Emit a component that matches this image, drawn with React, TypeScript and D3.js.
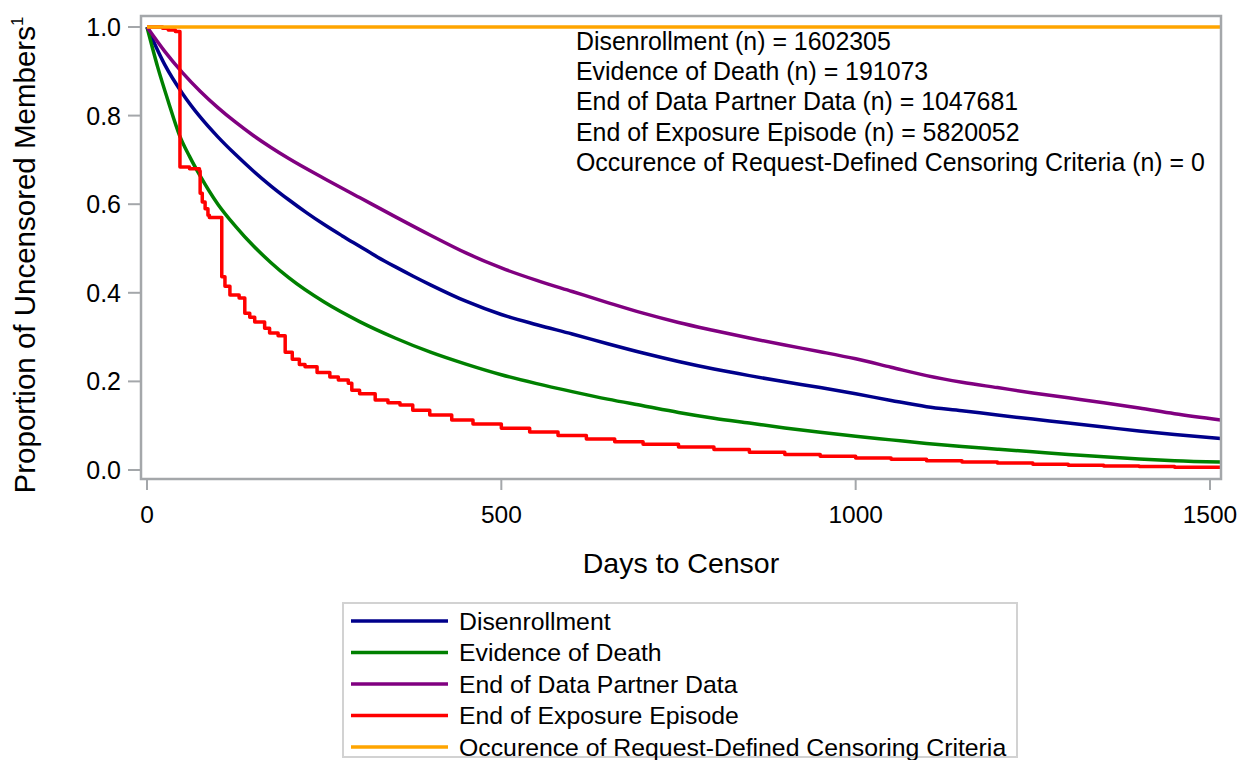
import React from 'react';
import * as d3 from 'd3';

// ---------- data ----------
const xTicks = [0, 500, 1000, 1500];
const yTicks = [0, 0.2, 0.4, 0.6, 0.8, 1.0];

const seriesNames = [
  'Disenrollment',
  'Evidence of Death',
  'End of Data Partner Data',
  'End of Exposure Episode',
  'Occurence of Request-Defined Censoring Criteria',
];
const seriesCounts = [1602305, 191073, 1047681, 5820052, 0];
const seriesColors = ['#00008B', '#008000', '#800080', '#FF0000', '#FFA500'];

const disenrollDays = [0, 25, 50, 75, 100, 125, 150, 175, 200, 225, 250, 275, 300, 325, 350, 375, 400, 450, 500, 550, 600, 650, 700, 750, 800, 850, 900, 950, 1000, 1050, 1100, 1150, 1200, 1250, 1300, 1350, 1400, 1450, 1515];
const disenrollVals = [1.0, 0.915, 0.85, 0.797, 0.752, 0.712, 0.675, 0.641, 0.61, 0.581, 0.554, 0.529, 0.505, 0.481, 0.459, 0.438, 0.418, 0.381, 0.351, 0.328, 0.307, 0.285, 0.264, 0.245, 0.228, 0.213, 0.199, 0.186, 0.172, 0.157, 0.143, 0.134, 0.124, 0.115, 0.106, 0.097, 0.088, 0.08, 0.071];

const deathDays = [0, 15, 30, 46, 60, 75, 100, 125, 150, 175, 200, 250, 300, 350, 400, 450, 500, 550, 600, 650, 700, 750, 800, 850, 900, 950, 1000, 1050, 1100, 1150, 1200, 1250, 1300, 1350, 1400, 1450, 1515];
const deathVals = [1.0, 0.91, 0.832, 0.755, 0.708, 0.664, 0.6, 0.55, 0.506, 0.468, 0.434, 0.379, 0.335, 0.298, 0.266, 0.239, 0.215, 0.195, 0.177, 0.16, 0.145, 0.13, 0.117, 0.106, 0.095, 0.085, 0.076, 0.068, 0.06, 0.053, 0.047, 0.041, 0.035, 0.03, 0.025, 0.021, 0.018];

const partnerDays = [0, 25, 50, 75, 100, 125, 150, 175, 200, 250, 300, 350, 400, 450, 500, 550, 600, 650, 700, 750, 800, 850, 900, 950, 1000, 1050, 1100, 1150, 1200, 1250, 1300, 1350, 1400, 1450, 1515];
const partnerVals = [1.0, 0.945, 0.897, 0.855, 0.818, 0.785, 0.755, 0.728, 0.703, 0.658, 0.615, 0.572, 0.53, 0.49, 0.456, 0.428, 0.403, 0.378, 0.354, 0.333, 0.315, 0.298, 0.282, 0.267, 0.251, 0.232, 0.213, 0.198, 0.186, 0.174, 0.163, 0.152, 0.14, 0.127, 0.113];

const exposureDays = [0, 22, 30, 40, 46.5, 60, 74, 75, 78, 82, 86, 88, 105.5, 110, 117, 130, 138, 145, 152, 166, 173, 185, 195, 205, 215, 223, 240, 258, 270, 284, 289, 300, 322, 340, 357, 375, 399, 430, 460, 500, 540, 580, 620, 660, 700, 750, 800, 850, 900, 950, 1000, 1050, 1100, 1150, 1200, 1250, 1300, 1350, 1400, 1450, 1515];
const exposureVals = [1.0, 0.997, 0.993, 0.99, 0.684, 0.68, 0.675, 0.625, 0.605, 0.59, 0.575, 0.57, 0.436, 0.415, 0.395, 0.388, 0.354, 0.345, 0.334, 0.32, 0.309, 0.303, 0.266, 0.25, 0.238, 0.233, 0.22, 0.21, 0.203, 0.196, 0.18, 0.172, 0.158, 0.152, 0.147, 0.135, 0.124, 0.113, 0.104, 0.094, 0.086, 0.078, 0.07, 0.064, 0.058, 0.052, 0.046, 0.04, 0.035, 0.031, 0.027, 0.024, 0.021, 0.018, 0.016, 0.013, 0.011, 0.009, 0.008, 0.006, 0.005];

const requestDays = [0, 1515];
const requestVals = [1.0, 1.0];

const seriesDays = [disenrollDays, deathDays, partnerDays, exposureDays, requestDays];
const seriesVals = [disenrollVals, deathVals, partnerVals, exposureVals, requestVals];
const seriesStep = [false, false, false, true, false];

// ---------- layout ----------
const W = 1243;
const H = 760;
const frame = { left: 141, right: 1221, top: 16, bottom: 479 };
const FONT = '"Liberation Sans", Arial, Helvetica, sans-serif';
const axisColor = '#a4a7aa';

export default function App() {
  const x = d3.scaleLinear().domain([0, 1500]).range([147, 1210]);
  const y = d3.scaleLinear().domain([0, 1]).range([470, 27]);

  const paths = seriesDays.map((days, i) => {
    const pts: [number, number][] = days.map((d, j) => [d, seriesVals[i][j]]);
    const gen = d3
      .line<[number, number]>()
      .x((p) => x(p[0]))
      .y((p) => y(p[1]))
      .curve(seriesStep[i] ? d3.curveStepAfter : d3.curveMonotoneX);
    return gen(pts) || '';
  });

  const legend = { left: 343, top: 603, width: 674, height: 154, rowStart: 621, rowGap: 31.5 };

  return (
    <svg
      width={W}
      height={H}
      style={{ position: 'absolute', left: 0, top: 0, background: '#fff' }}
      fontFamily={FONT}
    >
      <defs>
        <clipPath id="plotClip">
          <rect x={frame.left} y={frame.top} width={frame.right - frame.left} height={frame.bottom - frame.top} />
        </clipPath>
      </defs>
      <rect x={0} y={0} width={W} height={H} fill="#fff" />

      {/* curves */}
      <g clipPath="url(#plotClip)">
        {paths.map((p, i) => (
          <path key={i} d={p} fill="none" stroke={seriesColors[i]} strokeWidth={3.5} strokeLinejoin="round" />
        ))}
      </g>

      {/* frame */}
      <rect
        x={frame.left}
        y={frame.top}
        width={frame.right - frame.left}
        height={frame.bottom - frame.top}
        fill="none"
        stroke={axisColor}
        strokeWidth={2.5}
      />

      {/* y axis ticks */}
      {yTicks.map((t) => (
        <g key={'y' + t}>
          <line x1={frame.left - 13} x2={frame.left} y1={y(t)} y2={y(t)} stroke={axisColor} strokeWidth={2} />
          <text x={frame.left - 20} y={y(t)} dy="0.36em" textAnchor="end" fontSize={25} fill="#000">
            {t.toFixed(1)}
          </text>
        </g>
      ))}

      {/* x axis ticks */}
      {xTicks.map((t) => (
        <g key={'x' + t}>
          <line x1={x(t)} x2={x(t)} y1={frame.bottom} y2={frame.bottom + 11} stroke={axisColor} strokeWidth={2} />
          <text x={x(t)} y={523} textAnchor="middle" fontSize={24.5} fill="#000">
            {t}
          </text>
        </g>
      ))}

      {/* axis titles */}
      <text x={(frame.left + frame.right) / 2} y={573} textAnchor="middle" fontSize={28.5} fill="#000">
        Days to Censor
      </text>
      <text transform="translate(35,255) rotate(-90)" textAnchor="middle" fontSize={29.5} fill="#000">
        Proportion of Uncensored Members
        <tspan fontSize={17} dy={-12}>1</tspan>
      </text>

      {/* inset annotation */}
      {seriesNames.map((n, i) => (
        <text key={'a' + i} x={576} y={50 + i * 30.2} fontSize={24.9} fill="#000">
          {`${n} (n) = ${seriesCounts[i]}`}
        </text>
      ))}

      {/* legend */}
      <rect
        x={legend.left}
        y={legend.top}
        width={legend.width}
        height={legend.height}
        fill="#fff"
        stroke="#d2d2d2"
        strokeWidth={2}
      />
      {seriesNames.map((n, i) => {
        const cy = legend.rowStart + i * legend.rowGap;
        return (
          <g key={'l' + i}>
            <line x1={351} x2={448} y1={cy} y2={cy} stroke={seriesColors[i]} strokeWidth={3.5} />
            <text x={459} y={cy} dy="0.35em" fontSize={24.8} fill="#000">
              {n}
            </text>
          </g>
        );
      })}
    </svg>
  );
}
